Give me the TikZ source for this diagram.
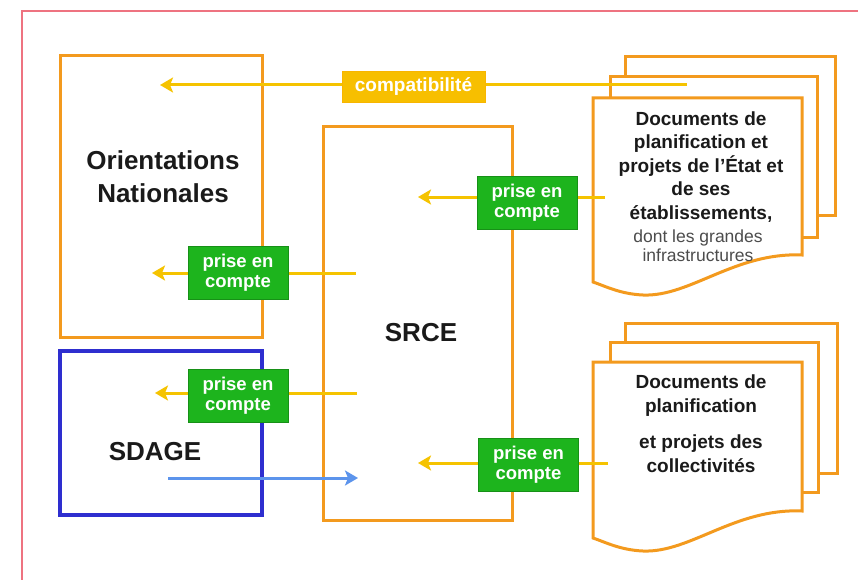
\documentclass[tikz,border=0pt]{standalone}
\usepackage{fontspec}
\setmainfont{Liberation Sans}
\usetikzlibrary{arrows.meta}
\definecolor{orng}{HTML}{F39A1E}
\definecolor{ylw}{HTML}{F5C300}
\definecolor{cmp}{HTML}{F7BF00}
\definecolor{grn}{HTML}{1DB41D}
\definecolor{blu}{HTML}{2E2ECF}
\definecolor{lblu}{HTML}{5C94EC}
\definecolor{frm}{HTML}{EE7380}
\definecolor{txt}{HTML}{1A1A1A}
\begin{document}
\begin{tikzpicture}[x=1pt,y=-1pt,
  obox/.style={draw=orng, line width=3pt},
  page/.style={draw=orng, line width=3pt, fill=white, line join=miter},
  yarr/.style={draw=ylw, line width=3pt, -{Stealth[length=13pt,width=15pt,inset=3pt]}},
  barr/.style={draw=lblu, line width=3pt, -{Stealth[length=13pt,width=15pt,inset=3pt]}},
  pec/.style={fill=grn, draw=grn!80!black, line width=0.6pt, text=white, align=center,
    font=\bfseries\fontsize{18.5}{20}\selectfont, minimum width=100pt, minimum height=53pt, inner sep=0pt},
  big/.style={text=txt, align=center, font=\bfseries\fontsize{26}{33}\selectfont},
  doctxt/.style={text=txt, align=center, font=\bfseries\fontsize{19}{23.5}\selectfont},
]
\useasboundingbox (0,0) rectangle (858,580);
\clip (0,0) rectangle (858,580);
% outer frame
\draw[frm, line width=1.5pt] (22,600) -- (22,11) -- (880,11);

% main boxes
\draw[obox] (60,56) rectangle (262,337);
\node[big] (on) at (163,177) {Orientations\\Nationales};
\draw[draw=blu, line width=4pt] (60,351) rectangle (262,515);
\node[big] (sdage) at (155,452) {SDAGE};
\draw[obox] (323,127) rectangle (512,520);
\node[big] (srce) at (421,333) {SRCE};

% document stack 1
\draw[page] (625,57) rectangle (835,215);
\draw[page] (610,77) rectangle (817,237);
\draw[page] (593,98) -- (802,98) -- (802,255)
  .. controls (735,252) and (690,297) .. (643,295)
  .. controls (620,294) and (605,286) .. (593,282) -- cycle;
\node[doctxt] (d1) at (701,167) {Documents de\\planification et\\projets de l’État et\\de ses\\établissements,};
\node[text=black!70, align=center, font=\fontsize{17.5}{19}\selectfont] (d1b) at (698,246) {dont les grandes\\infrastructures};

% document stack 2
\draw[page] (625,323) rectangle (837,473);
\draw[page] (610,342) rectangle (818,492);
\draw[page] (593,362) -- (802,362) -- (802,511)
  .. controls (735,508) and (690,553) .. (643,551)
  .. controls (620,550) and (605,542) .. (593,538) -- cycle;
\node[doctxt, font=\bfseries\fontsize{19}{24}\selectfont] (d2) at (701,424) {Documents de\\planification\\[12pt]et projets des\\collectivités};

% connectors
\coordinate (c0s) at (687,85);  \coordinate (c0e) at (160,85);
\coordinate (c1s) at (605,197); \coordinate (c1e) at (418,197);
\coordinate (c2s) at (356,273); \coordinate (c2e) at (152,273);
\coordinate (c3s) at (357,393); \coordinate (c3e) at (155,393);
\coordinate (c4s) at (608,463); \coordinate (c4e) at (418,463);
\coordinate (bs) at (168,478);  \coordinate (be) at (358,478);
\draw[yarr] (c0s) -- (c0e);
\draw[yarr] (c1s) -- (c1e);
\draw[yarr] (c2s) -- (c2e);
\draw[yarr] (c3s) -- (c3e);
\draw[yarr] (c4s) -- (c4e);
\draw[barr] (bs) -- (be);

% labels
\node[fill=cmp, draw=cmp!85!orange, line width=0.6pt, text=white, font=\bfseries\fontsize{19}{20}\selectfont,
  minimum width=143pt, minimum height=31pt, inner sep=0pt] (cmpl) at (413.5,86.5) {compatibilité};
\node[pec] (p1) at (527,202.5) {prise en\\compte};
\node[pec] (p2) at (238,273) {prise en\\compte};
\node[pec] (p3) at (238,396) {prise en\\compte};
\node[pec] (p4) at (528.5,464.5) {prise en\\compte};
\end{tikzpicture}
\end{document}
